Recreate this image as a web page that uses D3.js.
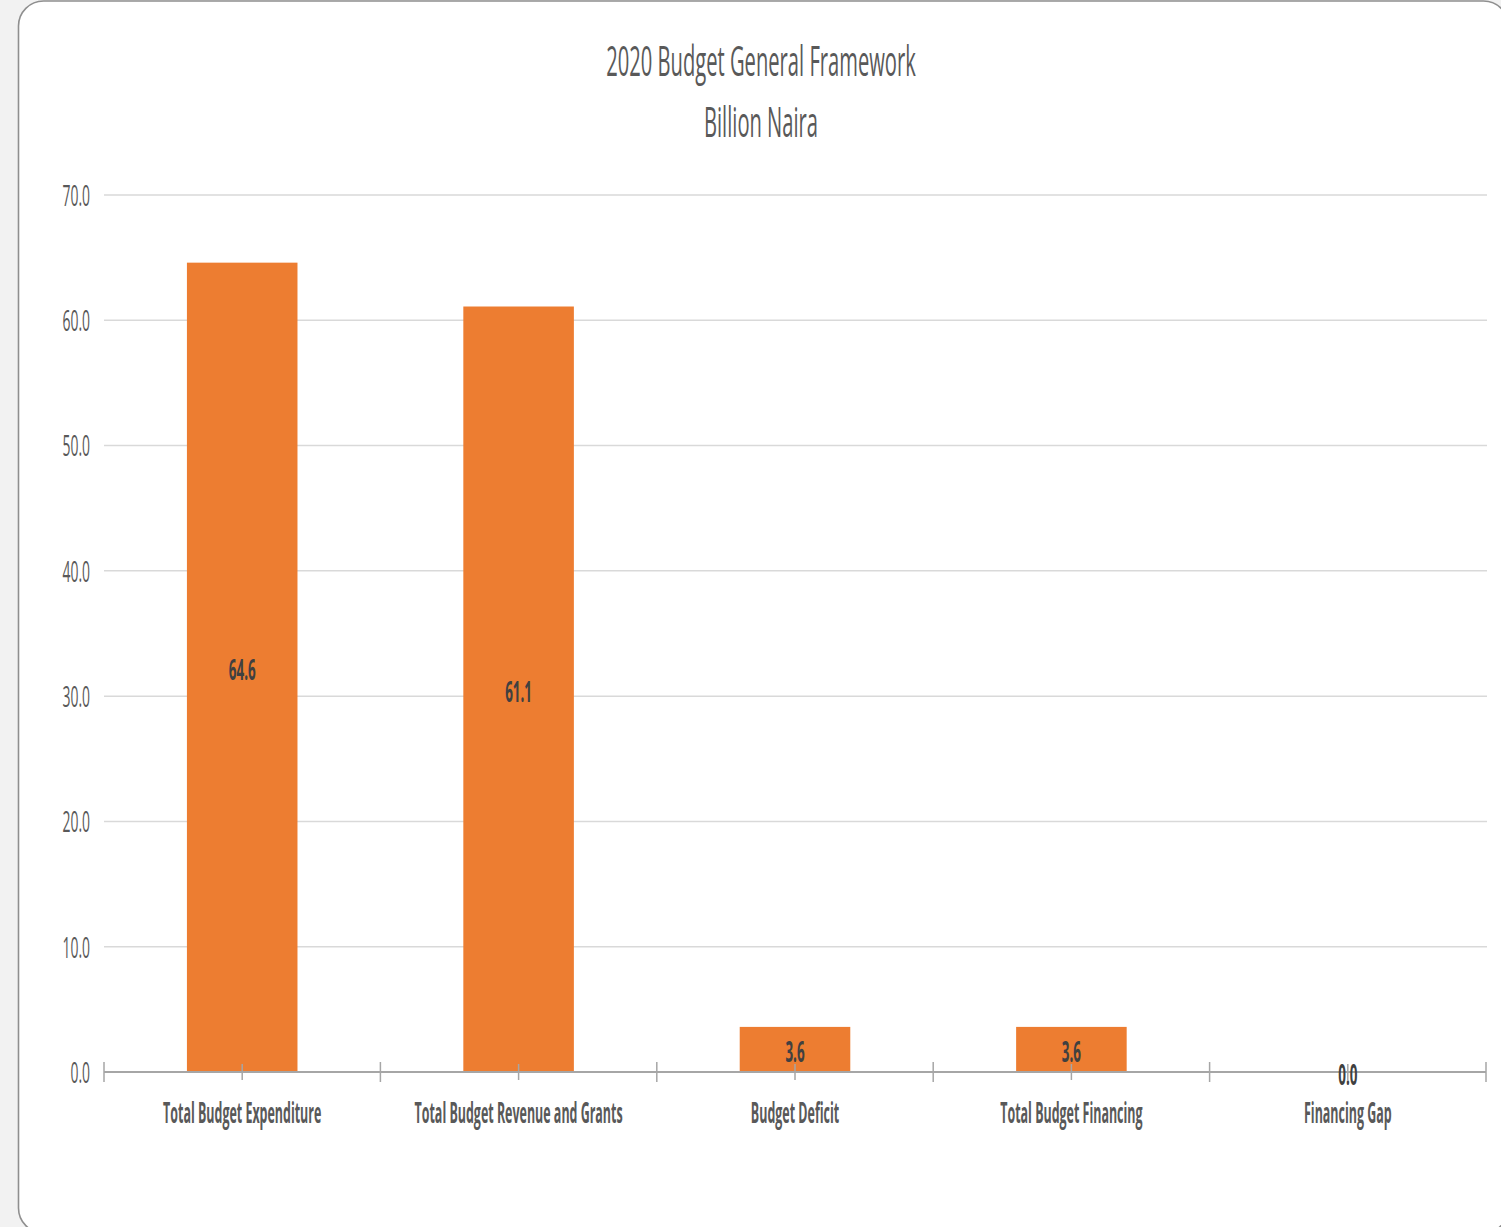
<!DOCTYPE html>
<html>
<head>
<meta charset="utf-8">
<script src="https://cdn.jsdelivr.net/npm/d3@7"></script>
<style>
  html, body { margin: 0; padding: 0; background: #f2f2f2; }
  svg { display: block; }
</style>
</head>
<body>
<svg id="chart" width="1501" height="1227"></svg>
<script>
// Budget framework figures, billion Naira
const categories = [
  "Total Budget Expenditure",
  "Total Budget Revenue and Grants",
  "Budget Deficit",
  "Total Budget Financing",
  "Financing Gap"
];
const values = [64.6, 61.1, 3.6, 3.6, 0.0];
const yTicks = [0, 10, 20, 30, 40, 50, 60, 70];
const titleLines = ["2020 Budget General Framework", "Billion Naira"];

const plot = { left: 104, right: 1486, top: 195, bottom: 1072 };
const squeeze = 0.48; // narrow, condensed lettering

const svg = d3.select("#chart");

// card
svg.append("rect")
  .attr("x", 18.5).attr("y", 1)
  .attr("width", 1490).attr("height", 1232)
  .attr("rx", 25).attr("ry", 25)
  .attr("fill", "#ffffff")
  .attr("stroke", "#8f8f8f")
  .attr("stroke-width", 1.6);

const x = d3.scaleBand().domain(categories).range([plot.left, plot.right]).paddingInner(0).paddingOuter(0);
const y = d3.scaleLinear().domain([0, 70]).range([plot.bottom, plot.top]);

function squeezedText(g, tx, ty, str, opts) {
  const sx = opts.squeeze || squeeze;
  return g.append("text")
    .attr("transform", `translate(${tx},${ty}) scale(${sx},1)`)
    .attr("text-anchor", opts.anchor || "middle")
    .attr("dominant-baseline", opts.baseline || "alphabetic")
    .attr("font-family", "'Open Sans', 'Noto Sans', sans-serif")
    .attr("font-size", opts.size)
    .attr("font-weight", opts.weight || 400)
    .attr("fill", opts.fill || "#595959")
    .text(str);
}

// title
const titleG = svg.append("g");
titleLines.forEach((t, i) => {
  squeezedText(titleG, 761, 76 + i * 61, t, { size: 42, fill: "#595959" });
});

// gridlines
const grid = svg.append("g");
grid.selectAll("line")
  .data(yTicks.filter(d => d > 0))
  .join("line")
  .attr("x1", plot.left).attr("x2", plot.right + 1)
  .attr("y1", d => y(d)).attr("y2", d => y(d))
  .attr("stroke", "#d9d9d9")
  .attr("stroke-width", 1.5);

// y tick labels
const yLab = svg.append("g");
yTicks.forEach(v => {
  squeezedText(yLab, 90, y(v), d3.format(".1f")(v), { size: 29, anchor: "end", baseline: "central", fill: "#595959" });
});

// bars
const bw = x.bandwidth() * 0.4;
svg.append("g").selectAll("rect")
  .data(values.map((v, i) => ({ c: categories[i], v })))
  .join("rect")
  .attr("x", d => x(d.c) + x.bandwidth() / 2 - bw / 2)
  .attr("width", bw)
  .attr("y", d => y(d.v))
  .attr("height", d => y(0) - y(d.v))
  .attr("fill", "#ed7d31");

// category axis
const axisG = svg.append("g");
axisG.append("line")
  .attr("x1", plot.left).attr("x2", plot.right)
  .attr("y1", y(0)).attr("y2", y(0))
  .attr("stroke", "#a6a6a6").attr("stroke-width", 2);
const boundaries = categories.map(c => x(c)).concat([x.range()[1]]);
axisG.selectAll("line.bound")
  .data(boundaries)
  .join("line").attr("class", "bound")
  .attr("x1", d => d).attr("x2", d => d)
  .attr("y1", y(0) - 10).attr("y2", y(0) + 10)
  .attr("stroke", "#a6a6a6").attr("stroke-width", 1.5);
axisG.selectAll("line.mid")
  .data(categories)
  .join("line").attr("class", "mid")
  .attr("x1", d => x(d) + x.bandwidth() / 2).attr("x2", d => x(d) + x.bandwidth() / 2)
  .attr("y1", y(0) - 8).attr("y2", y(0) + 8)
  .attr("stroke", "#a6a6a6").attr("stroke-width", 1.5);

// category labels
const xLab = svg.append("g");
categories.forEach(c => {
  squeezedText(xLab, x(c) + x.bandwidth() / 2, 1123, c, { size: 28, weight: 700, squeeze: 0.445, fill: "#595959" });
});

// value labels centred in each bar
const vLab = svg.append("g");
values.forEach((v, i) => {
  const cy = (y(v) + y(0)) / 2;
  squeezedText(vLab, x(categories[i]) + x.bandwidth() / 2, cy + 2, d3.format(".1f")(v),
    { size: 28, weight: 700, baseline: "central", fill: "#404040" });
});
</script>
</body>
</html>
